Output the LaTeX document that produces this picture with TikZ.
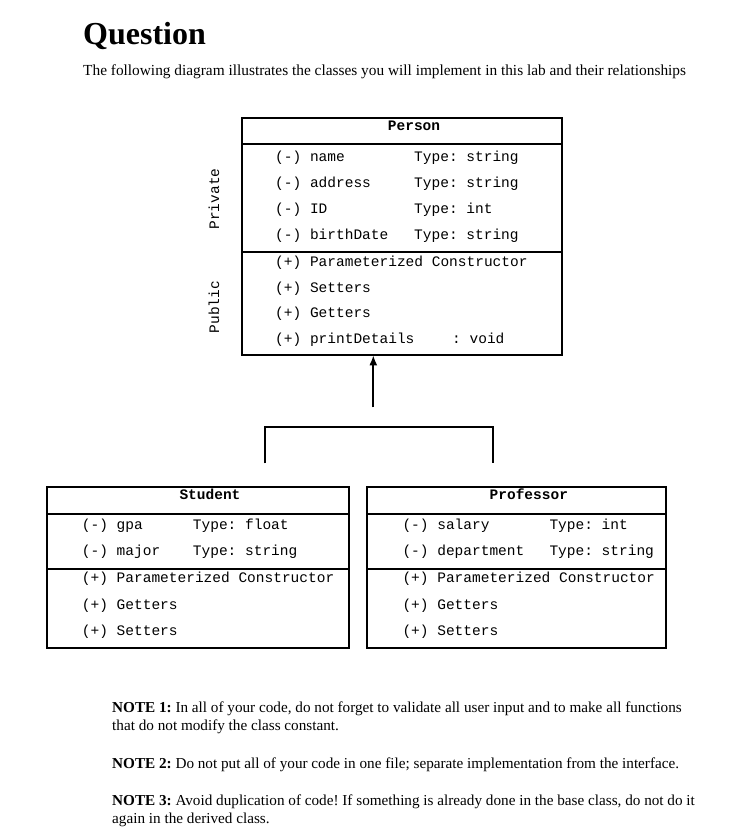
\documentclass[tikz,border=0pt]{standalone}
\usepackage{fontspec}
\setmainfont{Liberation Serif}
\setmonofont{Liberation Mono}
\usetikzlibrary{arrows.meta}
\begin{document}
\begin{tikzpicture}[x=1pt,y=-1pt,
  box/.style={draw, line width=1.8pt, inner sep=0pt, outer sep=0pt, anchor=north west},
  sep/.style={line width=1.8pt},
  mono/.style={font=\fontsize{14.5}{16}\selectfont\ttfamily, anchor=base west, inner sep=0pt},
  monob/.style={font=\fontsize{14.5}{16}\selectfont\ttfamily\bfseries, anchor=base, inner sep=0pt},
  side/.style={font=\fontsize{14.5}{16}\selectfont\ttfamily, rotate=90, anchor=center, inner sep=0pt},
  note/.style={font=\fontsize{15.2}{18}\selectfont, anchor=base west, inner sep=0pt},
  conn/.style={line width=1.8pt}]
\useasboundingbox (0,0) rectangle (755,832);

% heading
\node[font=\fontsize{32}{36}\selectfont\bfseries, anchor=base west, inner sep=0pt] (title) at (83,45) {Question};
\node[font=\fontsize{15.35}{17}\selectfont, anchor=base west, inner sep=0pt] (sub) at (83,76) {The following diagram illustrates the classes you will implement in this lab and their relationships};

% Person
\node[box, minimum width=320pt, minimum height=237pt] (person) at (241.7,118.3) {};
\draw[sep] (241.7,144.3) -- (561.7,144.3);
\draw[sep] (241.7,251.7) -- (561.7,251.7);
\node[monob] (pt) at (414,131) {Person};
\node[mono] (p1) at (275,161) {(-) name};
\node[mono] (p1t) at (414,161) {Type: string};
\node[mono] (p2) at (275,187) {(-) address};
\node[mono] (p2t) at (414,187) {Type: string};
\node[mono] (p3) at (275,213) {(-) ID};
\node[mono] (p3t) at (414,213) {Type: int};
\node[mono] (p4) at (275,239) {(-) birthDate};
\node[mono] (p4t) at (414,239) {Type: string};
\node[mono] (pm1) at (275,266.5) {(+) Parameterized Constructor};
\node[mono] (pm2) at (275,292) {(+) Setters};
\node[mono] (pm3) at (275,317.5) {(+) Getters};
\node[mono] (pm4) at (275,343) {(+) printDetails};
\node[mono] (pm4t) at (452,343) {: void};
\node[side] (priv) at (214,199) {Private};
\node[side] (pub) at (214,307) {Public};

% inheritance connector
\coordinate (brtop) at (373.3,407.3);
\coordinate (brl) at (265,463.3);
\coordinate (brr) at (492.7,463.3);
\draw[conn, -{Latex[length=10pt,width=8pt]}] (brtop) -- (brtop |- person.south);
\draw[conn] (brl) -- (265,426.7) -- (492.7,426.7) -- (brr);

% Student
\node[box, minimum width=302.6pt, minimum height=161.6pt] (student) at (46.7,486.7) {};
\draw[sep] (46.7,514.3) -- (349.3,514.3);
\draw[sep] (46.7,569) -- (349.3,569);
\node[monob] (st) at (210,499.5) {Student};
\node[mono] (s1) at (81.7,529.3) {(-) gpa};
\node[mono] (s1t) at (192.7,529.3) {Type: float};
\node[mono] (s2) at (81.7,555.3) {(-) major};
\node[mono] (s2t) at (192.7,555.3) {Type: string};
\node[mono] (sm1) at (81.7,582.7) {(+) Parameterized Constructor};
\node[mono] (sm2) at (81.7,609.3) {(+) Getters};
\node[mono] (sm3) at (81.7,635) {(+) Setters};

% Professor
\node[box, minimum width=298.7pt, minimum height=161.6pt] (prof) at (367.3,486.7) {};
\draw[sep] (367.3,514.3) -- (666,514.3);
\draw[sep] (367.3,569) -- (666,569);
\node[monob] (prt) at (528.8,499.5) {Professor};
\node[mono] (r1) at (402.3,529.3) {(-) salary};
\node[mono] (r1t) at (549.3,529.3) {Type: int};
\node[mono] (r2) at (402.3,555.3) {(-) department};
\node[mono] (r2t) at (549.3,555.3) {Type: string};
\node[mono] (rm1) at (402.3,582.7) {(+) Parameterized Constructor};
\node[mono] (rm2) at (402.3,609.3) {(+) Getters};
\node[mono] (rm3) at (402.3,635) {(+) Setters};

% notes
\node[note] (n1a) at (112,712) {\textbf{NOTE 1:}\ In all of your code, do not forget to validate all user input and to make all functions};
\node[note] (n1b) at (112,730) {that do not modify the class constant.};
\node[note] (n2) at (112,768) {\textbf{NOTE 2:}\ Do not put all of your code in one file; separate implementation from the interface.};
\node[note] (n3a) at (112,805) {\textbf{NOTE 3:}\ Avoid duplication of code!\ If something is already done in the base class, do not do it};
\node[note] (n3b) at (112,823) {again in the derived class.};
\end{tikzpicture}
\end{document}
